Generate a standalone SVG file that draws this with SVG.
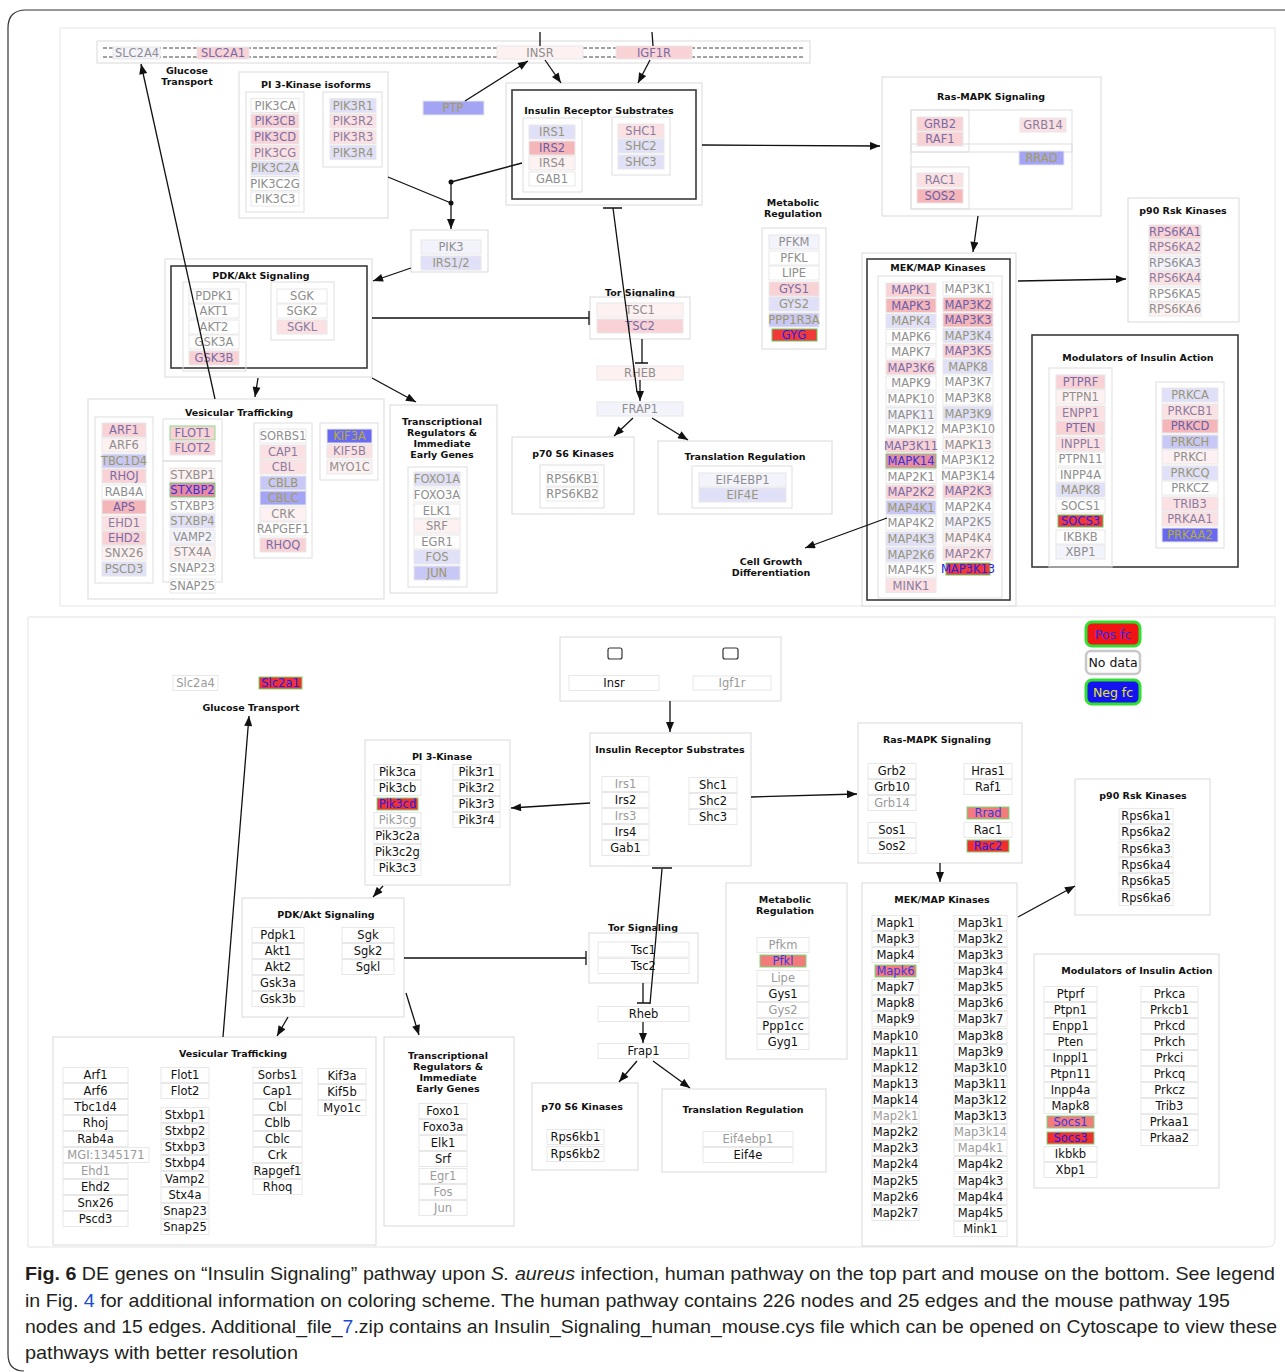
<svg xmlns="http://www.w3.org/2000/svg" width="1285" height="1372" viewBox="0 0 1285 1372">
<defs>
<marker id="ah" viewBox="0 0 10 8" refX="10" refY="4" markerWidth="11" markerHeight="8" markerUnits="userSpaceOnUse" orient="auto"><path d="M0,0 L10,4 L0,8 z" fill="#111"/></marker>
<style>
.bx{fill:#fff;stroke:#d9d9d9;stroke-width:1}
.in{fill:none;stroke:#dedede;stroke-width:1}
.dk{fill:none;stroke:#3a3a3a;stroke-width:1.6}
.ti{font:bold 9.5px "DejaVu Sans",sans-serif;text-anchor:middle;fill:#111}
.n rect{fill:#fff;stroke:#e8e8e8;stroke-width:1}
.n text{font:11.5px "DejaVu Sans",sans-serif;text-anchor:middle;fill:#8e8e8e}
.p1 rect{fill:#fdf1f1}
.p2 rect{fill:#fbe1e3}
.p2 text{fill:#8a7c9e}
.p3 rect{fill:#f8d2d5}
.p3 text{fill:#7a6ba6}
.p4 rect{fill:#f5b6ba}
.p4 text{fill:#6a5fa8}
.v1 rect{fill:#f3f3fc}
.v2 rect{fill:#e0e0f9}
.v2 text{fill:#97957a}
.v3 rect{fill:#c8c8f6}
.v3 text{fill:#9d9766}
.b1 rect{fill:#a4a4f4}
.b1 text{fill:#a59c55}
.b2 rect{fill:#6a6af0}
.b2 text{fill:#b4ab3c}
.r rect{fill:#f03a3a;stroke:#6c6}
.r text{fill:#2424e6}
.rs rect{fill:#e98aa0;stroke:#7c7}
.rs text{fill:#3434d8}
.gb rect{stroke:#8d8}
.m text{fill:#111}
.mg text{fill:#9a9a9a}
.ms rect{fill:#f27b7b;stroke:#7d7}
.ms text{fill:#3a3ae0}
.mr rect{fill:#f03030;stroke:#7d7}
.mr text{fill:#2020e8}
.e{fill:none;stroke:#111;stroke-width:1.3}
.a{marker-end:url(#ah)}
.cap{font-family:"Liberation Sans Narrow","Liberation Sans",sans-serif;font-size:19px;fill:#231f20}
.lg{font:12.5px "DejaVu Sans",sans-serif;text-anchor:middle}
</style>
</defs>
<rect width="1285" height="1372" fill="#fff"/>
<path d="M1285,10 H26 Q8,10 8,28 V1354 Q8,1371 24,1371" fill="none" stroke="#333" stroke-width="1.2"/>
<rect x="60" y="28" width="1215" height="578" fill="none" stroke="#e6e6e6"/>
<path d="M28,617 H1275 V1239 Q1275,1247 1267,1247 H28 Z" fill="none" stroke="#e3e3e3"/>

<g id="human-groups">
<g id="h-membrane"><rect class="bx" x="97" y="41" width="713" height="22"/><path d="M103,48H803M103,57H803" stroke="#444" stroke-width="1" stroke-dasharray="4,2" fill="none"/></g>
<g id="h-glucose-label"><text class="ti" x="187" y="74">Glucose</text><text class="ti" x="187" y="85">Transport</text></g>
<g id="h-pi3k"><rect class="bx" x="239" y="72" width="149" height="146"/><text class="ti" x="316" y="87.5">PI 3-Kinase isoforms</text><rect class="in" x="246" y="92" width="58" height="120"/><rect class="in" x="323" y="92" width="59" height="75"/></g>
<g id="h-irs"><rect class="bx" x="506" y="83" width="196" height="122"/><rect class="dk" x="512" y="90" width="184" height="109"/><text class="ti" x="599" y="113.5">Insulin Receptor Substrates</text><rect class="in" x="523" y="118" width="59" height="74"/><rect class="in" x="612" y="117" width="58" height="58"/></g>
<g id="h-pik3box"><rect class="bx" x="411" y="230" width="77" height="42"/></g>
<g id="h-ras"><rect class="bx" x="882" y="77" width="219" height="139"/><text class="ti" x="991" y="99.5">Ras-MAPK Signaling</text><rect class="in" x="911" y="110" width="161" height="99"/><rect class="in" x="911" y="110" width="58" height="42"/><rect class="in" x="911" y="144" width="161" height="8"/><rect class="in" x="911" y="167" width="58" height="42"/></g>
<g id="h-mek"><rect class="bx" x="862" y="253" width="154" height="353"/><rect class="dk" x="867" y="259" width="143" height="341"/><text class="ti" x="938" y="270.5">MEK/MAP Kinases</text><rect class="in" x="878" y="276" width="124" height="322"/></g>
<g id="h-p90"><rect class="bx" x="1128" y="198" width="111" height="124"/><text class="ti" x="1183" y="213.5">p90 Rsk Kinases</text></g>
<g id="h-mod"><rect class="dk" x="1032" y="335" width="206" height="232"/><text class="ti" x="1138" y="361">Modulators of Insulin Action</text><rect class="in" x="1049" y="368" width="63" height="199"/><rect class="in" x="1156" y="382" width="68" height="166"/></g>
<g id="h-meta"><text class="ti" x="793" y="205.5">Metabolic</text><text class="ti" x="793" y="216.5">Regulation</text><rect class="bx" x="762" y="228" width="64" height="121"/></g>
<g id="h-tor"><text class="ti" x="640" y="295.5">Tor Signaling</text><rect class="bx" x="590" y="297" width="100" height="42"/></g>
<g id="h-p70"><rect class="bx" x="512" y="437" width="122" height="77"/><text class="ti" x="573" y="456.5">p70 S6 Kinases</text><rect class="in" x="540" y="465" width="64" height="43"/></g>
<g id="h-trans"><rect class="bx" x="658" y="441" width="174" height="73"/><text class="ti" x="745" y="459.5">Translation Regulation</text><rect class="in" x="692" y="466" width="100" height="42"/></g>
<g id="h-cellgrowth"><text class="ti" x="771" y="564.5">Cell Growth</text><text class="ti" x="771" y="575.5">Differentiation</text></g>
<g id="h-pdk"><rect class="bx" x="165" y="259" width="207" height="118"/><rect class="dk" x="171" y="266" width="196" height="102"/><text class="ti" x="261" y="278.5">PDK/Akt Signaling</text><rect class="in" x="183" y="282" width="63" height="89"/><rect class="in" x="271" y="282" width="63" height="58"/></g>
<g id="h-vt"><rect class="bx" x="88" y="399" width="296" height="200"/><text class="ti" x="239" y="415.5">Vesicular Trafficking</text><rect class="in" x="95" y="417" width="58" height="166"/><rect class="in" x="163" y="419" width="59" height="42"/><rect class="in" x="163" y="461" width="59" height="121"/><rect class="in" x="254" y="423" width="58" height="135"/><rect class="in" x="320" y="423" width="58" height="57"/></g>
<g id="h-tr"><rect class="bx" x="390" y="405" width="107" height="188"/><text class="ti" x="442" y="424.5">Transcriptional</text><text class="ti" x="442" y="435.5">Regulators &amp;</text><text class="ti" x="442" y="446.5">Immediate</text><text class="ti" x="442" y="457.5">Early Genes</text><rect class="in" x="408" y="467" width="59" height="120"/></g>
</g>

<g id="human-nodes">
<g id="h-SLC2A4" class="n v1"><rect x="113" y="47" width="47" height="12"/><text x="137" y="57">SLC2A4</text></g>
<g id="h-SLC2A1" class="n p3"><rect x="197" y="47" width="52" height="12"/><text x="223" y="57">SLC2A1</text></g>
<g id="h-INSR" class="n p1"><rect x="497" y="46" width="86" height="13"/><text x="540" y="57">INSR</text></g>
<g id="h-IGF1R" class="n p3"><rect x="616" y="46" width="76" height="13"/><text x="654" y="57">IGF1R</text></g>
<g id="h-PTP" class="n b1"><rect x="423" y="101" width="61" height="14"/><text x="453" y="112">PTP</text></g>
<g id="h-PIK3CA" class="n"><rect x="251" y="98.5" width="48" height="14"/><text x="275" y="109.5">PIK3CA</text></g>
<g id="h-PIK3CB" class="n p3"><rect x="251" y="114" width="48" height="14"/><text x="275" y="125">PIK3CB</text></g>
<g id="h-PIK3CD" class="n p3"><rect x="251" y="130" width="48" height="14"/><text x="275" y="141">PIK3CD</text></g>
<g id="h-PIK3CG" class="n p2"><rect x="251" y="145.5" width="48" height="14"/><text x="275" y="156.5">PIK3CG</text></g>
<g id="h-PIK3C2A" class="n v2"><rect x="251" y="161" width="48" height="14"/><text x="275" y="172">PIK3C2A</text></g>
<g id="h-PIK3C2G" class="n"><rect x="251" y="176.5" width="48" height="14"/><text x="275" y="187.5">PIK3C2G</text></g>
<g id="h-PIK3C3" class="n"><rect x="251" y="192" width="48" height="14"/><text x="275" y="203">PIK3C3</text></g>
<g id="h-PIK3R1" class="n v2"><rect x="330" y="98.5" width="46" height="14"/><text x="353" y="109.5">PIK3R1</text></g>
<g id="h-PIK3R2" class="n p2"><rect x="330" y="114" width="46" height="14"/><text x="353" y="125">PIK3R2</text></g>
<g id="h-PIK3R3" class="n p2"><rect x="330" y="130" width="46" height="14"/><text x="353" y="141">PIK3R3</text></g>
<g id="h-PIK3R4" class="n v2"><rect x="330" y="145.5" width="46" height="14"/><text x="353" y="156.5">PIK3R4</text></g>
<g id="h-IRS1" class="n v2"><rect x="529" y="125" width="46" height="14"/><text x="552" y="136">IRS1</text></g>
<g id="h-IRS2" class="n p4"><rect x="529" y="141" width="46" height="14"/><text x="552" y="152">IRS2</text></g>
<g id="h-IRS4" class="n p1"><rect x="529" y="156" width="46" height="14"/><text x="552" y="167">IRS4</text></g>
<g id="h-GAB1" class="n"><rect x="529" y="172" width="46" height="14"/><text x="552" y="183">GAB1</text></g>
<g id="h-SHC1" class="n p2"><rect x="618" y="124" width="46" height="14"/><text x="641" y="135">SHC1</text></g>
<g id="h-SHC2" class="n v2"><rect x="618" y="139" width="46" height="14"/><text x="641" y="150">SHC2</text></g>
<g id="h-SHC3" class="n v2"><rect x="618" y="155" width="46" height="14"/><text x="641" y="166">SHC3</text></g>
<g id="h-PIK3" class="n v1"><rect x="421" y="240" width="60" height="14"/><text x="451" y="251">PIK3</text></g>
<g id="h-IRS12" class="n v2"><rect x="421" y="256" width="60" height="14"/><text x="451" y="267">IRS1/2</text></g>
<g id="h-GRB2" class="n p3"><rect x="917" y="117" width="46" height="14"/><text x="940" y="128">GRB2</text></g>
<g id="h-RAF1" class="n p3"><rect x="917" y="132" width="46" height="14"/><text x="940" y="143">RAF1</text></g>
<g id="h-GRB14" class="n p2"><rect x="1020" y="118" width="46" height="14"/><text x="1043" y="129">GRB14</text></g>
<g id="h-RRAD" class="n b1"><rect x="1019" y="151" width="45" height="14"/><text x="1041.5" y="162">RRAD</text></g>
<g id="h-RAC1" class="n p2"><rect x="917" y="173" width="46" height="14"/><text x="940" y="184">RAC1</text></g>
<g id="h-SOS2" class="n p4"><rect x="917" y="189" width="46" height="14"/><text x="940" y="200">SOS2</text></g>
<g id="h-MAPK1" class="n p3"><rect x="886" y="283" width="50" height="14"/><text x="911" y="294">MAPK1</text></g>
<g id="h-MAPK3" class="n p4"><rect x="886" y="298.5" width="50" height="14"/><text x="911" y="309.5">MAPK3</text></g>
<g id="h-MAPK4" class="n v2"><rect x="886" y="314" width="50" height="14"/><text x="911" y="325">MAPK4</text></g>
<g id="h-MAPK6" class="n"><rect x="886" y="329.5" width="50" height="14"/><text x="911" y="340.5">MAPK6</text></g>
<g id="h-MAPK7" class="n"><rect x="886" y="345" width="50" height="14"/><text x="911" y="356">MAPK7</text></g>
<g id="h-MAP3K6" class="n p3"><rect x="886" y="360.5" width="50" height="14"/><text x="911" y="371.5">MAP3K6</text></g>
<g id="h-MAPK9" class="n"><rect x="886" y="376" width="50" height="14"/><text x="911" y="387">MAPK9</text></g>
<g id="h-MAPK10" class="n"><rect x="886" y="392" width="50" height="14"/><text x="911" y="403">MAPK10</text></g>
<g id="h-MAPK11" class="n v1"><rect x="886" y="407.5" width="50" height="14"/><text x="911" y="418.5">MAPK11</text></g>
<g id="h-MAPK12" class="n"><rect x="886" y="423" width="50" height="14"/><text x="911" y="434">MAPK12</text></g>
<g id="h-MAP3K11" class="n p3"><rect x="886" y="438.5" width="50" height="14"/><text x="911" y="449.5">MAP3K11</text></g>
<g id="h-MAPK14" class="n rs"><rect x="886" y="454" width="50" height="14"/><text x="911" y="465">MAPK14</text></g>
<g id="h-MAP2K1" class="n"><rect x="886" y="469.5" width="50" height="14"/><text x="911" y="480.5">MAP2K1</text></g>
<g id="h-MAP2K2" class="n p3"><rect x="886" y="485" width="50" height="14"/><text x="911" y="496">MAP2K2</text></g>
<g id="h-MAP4K1" class="n v3"><rect x="886" y="500.5" width="50" height="14"/><text x="911" y="511.5">MAP4K1</text></g>
<g id="h-MAP4K2" class="n"><rect x="886" y="516" width="50" height="14"/><text x="911" y="527">MAP4K2</text></g>
<g id="h-MAP4K3" class="n v2"><rect x="886" y="532" width="50" height="14"/><text x="911" y="543">MAP4K3</text></g>
<g id="h-MAP2K6" class="n v2"><rect x="886" y="547.5" width="50" height="14"/><text x="911" y="558.5">MAP2K6</text></g>
<g id="h-MAP4K5" class="n"><rect x="886" y="563" width="50" height="14"/><text x="911" y="574">MAP4K5</text></g>
<g id="h-MINK1" class="n p2"><rect x="886" y="578.5" width="50" height="14"/><text x="911" y="589.5">MINK1</text></g>
<g id="h-MAP3K1" class="n"><rect x="943" y="282" width="50" height="14"/><text x="968" y="293">MAP3K1</text></g>
<g id="h-MAP3K2" class="n p4"><rect x="943" y="297.5" width="50" height="14"/><text x="968" y="308.5">MAP3K2</text></g>
<g id="h-MAP3K3" class="n p4"><rect x="943" y="313" width="50" height="14"/><text x="968" y="324">MAP3K3</text></g>
<g id="h-MAP3K4" class="n v2"><rect x="943" y="328.5" width="50" height="14"/><text x="968" y="339.5">MAP3K4</text></g>
<g id="h-MAP3K5" class="n p3"><rect x="943" y="344" width="50" height="14"/><text x="968" y="355">MAP3K5</text></g>
<g id="h-mek-MAPK8" class="n v2"><rect x="943" y="359.5" width="50" height="14"/><text x="968" y="370.5">MAPK8</text></g>
<g id="h-MAP3K7" class="n"><rect x="943" y="375" width="50" height="14"/><text x="968" y="386">MAP3K7</text></g>
<g id="h-MAP3K8" class="n"><rect x="943" y="391" width="50" height="14"/><text x="968" y="402">MAP3K8</text></g>
<g id="h-MAP3K9" class="n v2"><rect x="943" y="406.5" width="50" height="14"/><text x="968" y="417.5">MAP3K9</text></g>
<g id="h-MAP3K10" class="n"><rect x="943" y="422" width="50" height="14"/><text x="968" y="433">MAP3K10</text></g>
<g id="h-MAPK13" class="n p1"><rect x="943" y="437.5" width="50" height="14"/><text x="968" y="448.5">MAPK13</text></g>
<g id="h-MAP3K12" class="n"><rect x="943" y="453" width="50" height="14"/><text x="968" y="464">MAP3K12</text></g>
<g id="h-MAP3K14" class="n"><rect x="943" y="468.5" width="50" height="14"/><text x="968" y="479.5">MAP3K14</text></g>
<g id="h-MAP2K3" class="n p3"><rect x="943" y="484" width="50" height="14"/><text x="968" y="495">MAP2K3</text></g>
<g id="h-MAP2K4" class="n"><rect x="943" y="499.5" width="50" height="14"/><text x="968" y="510.5">MAP2K4</text></g>
<g id="h-MAP2K5" class="n v1"><rect x="943" y="515" width="50" height="14"/><text x="968" y="526">MAP2K5</text></g>
<g id="h-MAP4K4" class="n p1"><rect x="943" y="531" width="50" height="14"/><text x="968" y="542">MAP4K4</text></g>
<g id="h-MAP2K7" class="n p2"><rect x="943" y="546.5" width="50" height="14"/><text x="968" y="557.5">MAP2K7</text></g>
<g id="h-MAP3K13" class="n r"><rect x="946" y="563" width="44" height="12"/><text x="968" y="573">MAP3K13</text></g>
<g id="h-RPS6KA1" class="n p3"><rect x="1149" y="225" width="52" height="14"/><text x="1175" y="236">RPS6KA1</text></g>
<g id="h-RPS6KA2" class="n p2"><rect x="1149" y="240" width="52" height="14"/><text x="1175" y="251">RPS6KA2</text></g>
<g id="h-RPS6KA3" class="n v1"><rect x="1149" y="256" width="52" height="14"/><text x="1175" y="267">RPS6KA3</text></g>
<g id="h-RPS6KA4" class="n p2"><rect x="1149" y="271" width="52" height="14"/><text x="1175" y="282">RPS6KA4</text></g>
<g id="h-RPS6KA5" class="n"><rect x="1149" y="287" width="52" height="14"/><text x="1175" y="298">RPS6KA5</text></g>
<g id="h-RPS6KA6" class="n p1"><rect x="1149" y="302" width="52" height="14"/><text x="1175" y="313">RPS6KA6</text></g>
<g id="h-PTPRF" class="n p3"><rect x="1056" y="375" width="49" height="14"/><text x="1080.5" y="386">PTPRF</text></g>
<g id="h-PTPN1" class="n p1"><rect x="1056" y="390" width="49" height="14"/><text x="1080.5" y="401">PTPN1</text></g>
<g id="h-ENPP1" class="n p2"><rect x="1056" y="406" width="49" height="14"/><text x="1080.5" y="417">ENPP1</text></g>
<g id="h-PTEN" class="n p3"><rect x="1056" y="421" width="49" height="14"/><text x="1080.5" y="432">PTEN</text></g>
<g id="h-INPPL1" class="n p2"><rect x="1056" y="437" width="49" height="14"/><text x="1080.5" y="448">INPPL1</text></g>
<g id="h-PTPN11" class="n"><rect x="1056" y="452" width="49" height="14"/><text x="1080.5" y="463">PTPN11</text></g>
<g id="h-INPP4A" class="n"><rect x="1056" y="468" width="49" height="14"/><text x="1080.5" y="479">INPP4A</text></g>
<g id="h-mod-MAPK8" class="n v2"><rect x="1056" y="483" width="49" height="14"/><text x="1080.5" y="494">MAPK8</text></g>
<g id="h-SOCS1" class="n"><rect x="1056" y="499" width="49" height="14"/><text x="1080.5" y="510">SOCS1</text></g>
<g id="h-SOCS3" class="n r"><rect x="1058" y="515" width="45" height="12"/><text x="1080.5" y="525">SOCS3</text></g>
<g id="h-IKBKB" class="n"><rect x="1056" y="530" width="49" height="14"/><text x="1080.5" y="541">IKBKB</text></g>
<g id="h-XBP1" class="n v1"><rect x="1056" y="545" width="49" height="14"/><text x="1080.5" y="556">XBP1</text></g>
<g id="h-PRKCA" class="n v2"><rect x="1162" y="388" width="56" height="14"/><text x="1190" y="399">PRKCA</text></g>
<g id="h-PRKCB1" class="n p2"><rect x="1162" y="404" width="56" height="14"/><text x="1190" y="415">PRKCB1</text></g>
<g id="h-PRKCD" class="n p4"><rect x="1162" y="419" width="56" height="14"/><text x="1190" y="430">PRKCD</text></g>
<g id="h-PRKCH" class="n v3"><rect x="1162" y="435" width="56" height="14"/><text x="1190" y="446">PRKCH</text></g>
<g id="h-PRKCI" class="n p1"><rect x="1162" y="450" width="56" height="14"/><text x="1190" y="461">PRKCI</text></g>
<g id="h-PRKCQ" class="n v2"><rect x="1162" y="466" width="56" height="14"/><text x="1190" y="477">PRKCQ</text></g>
<g id="h-PRKCZ" class="n"><rect x="1162" y="481" width="56" height="14"/><text x="1190" y="492">PRKCZ</text></g>
<g id="h-TRIB3" class="n p2"><rect x="1162" y="497" width="56" height="14"/><text x="1190" y="508">TRIB3</text></g>
<g id="h-PRKAA1" class="n p2"><rect x="1162" y="512" width="56" height="14"/><text x="1190" y="523">PRKAA1</text></g>
<g id="h-PRKAA2" class="n b2"><rect x="1162" y="528" width="56" height="14"/><text x="1190" y="539">PRKAA2</text></g>
<g id="h-PFKM" class="n v1"><rect x="769" y="235" width="50" height="14"/><text x="794" y="246">PFKM</text></g>
<g id="h-PFKL" class="n"><rect x="769" y="251" width="50" height="14"/><text x="794" y="262">PFKL</text></g>
<g id="h-LIPE" class="n"><rect x="769" y="266" width="50" height="14"/><text x="794" y="277">LIPE</text></g>
<g id="h-GYS1" class="n p3"><rect x="769" y="282" width="50" height="14"/><text x="794" y="293">GYS1</text></g>
<g id="h-GYS2" class="n v2"><rect x="769" y="297" width="50" height="14"/><text x="794" y="308">GYS2</text></g>
<g id="h-PPP1R3A" class="n v3"><rect x="769" y="313" width="50" height="14"/><text x="794" y="324">PPP1R3A</text></g>
<g id="h-GYG" class="n r"><rect x="772" y="329" width="45" height="12"/><text x="794" y="339">GYG</text></g>
<g id="h-TSC1" class="n p1"><rect x="597" y="303" width="86" height="14"/><text x="640" y="314">TSC1</text></g>
<g id="h-TSC2" class="n p3"><rect x="597" y="319" width="86" height="14"/><text x="640" y="330">TSC2</text></g>
<g id="h-RHEB" class="n p1"><rect x="597" y="366" width="86" height="14"/><text x="640" y="377">RHEB</text></g>
<g id="h-FRAP1" class="n v1"><rect x="597" y="402" width="86" height="14"/><text x="640" y="413">FRAP1</text></g>
<g id="h-RPS6KB1" class="n"><rect x="547" y="472" width="51" height="14"/><text x="572.5" y="483">RPS6KB1</text></g>
<g id="h-RPS6KB2" class="n"><rect x="547" y="487" width="51" height="14"/><text x="572.5" y="498">RPS6KB2</text></g>
<g id="h-EIF4EBP1" class="n v1"><rect x="699" y="473" width="87" height="14"/><text x="742.5" y="484">EIF4EBP1</text></g>
<g id="h-EIF4E" class="n v2"><rect x="699" y="488" width="87" height="14"/><text x="742.5" y="499">EIF4E</text></g>
<g id="h-PDPK1" class="n"><rect x="189" y="289" width="50" height="14"/><text x="214" y="300">PDPK1</text></g>
<g id="h-AKT1" class="n"><rect x="189" y="304" width="50" height="14"/><text x="214" y="315">AKT1</text></g>
<g id="h-AKT2" class="n"><rect x="189" y="320" width="50" height="14"/><text x="214" y="331">AKT2</text></g>
<g id="h-GSK3A" class="n"><rect x="189" y="335" width="50" height="14"/><text x="214" y="346">GSK3A</text></g>
<g id="h-GSK3B" class="n p3"><rect x="189" y="351" width="50" height="14"/><text x="214" y="362">GSK3B</text></g>
<g id="h-SGK" class="n"><rect x="277" y="289" width="50" height="14"/><text x="302" y="300">SGK</text></g>
<g id="h-SGK2" class="n"><rect x="277" y="304" width="50" height="14"/><text x="302" y="315">SGK2</text></g>
<g id="h-SGKL" class="n p2"><rect x="277" y="320" width="50" height="14"/><text x="302" y="331">SGKL</text></g>
<g id="h-ARF1" class="n p3"><rect x="102" y="423" width="44" height="14"/><text x="124" y="434">ARF1</text></g>
<g id="h-ARF6" class="n p1"><rect x="102" y="438" width="44" height="14"/><text x="124" y="449">ARF6</text></g>
<g id="h-TBC1D4" class="n v3"><rect x="102" y="454" width="44" height="14"/><text x="124" y="465">TBC1D4</text></g>
<g id="h-RHOJ" class="n p3"><rect x="102" y="469" width="44" height="14"/><text x="124" y="480">RHOJ</text></g>
<g id="h-RAB4A" class="n"><rect x="102" y="485" width="44" height="14"/><text x="124" y="496">RAB4A</text></g>
<g id="h-APS" class="n p4"><rect x="102" y="500" width="44" height="14"/><text x="124" y="511">APS</text></g>
<g id="h-EHD1" class="n p2"><rect x="102" y="516" width="44" height="14"/><text x="124" y="527">EHD1</text></g>
<g id="h-EHD2" class="n p3"><rect x="102" y="531" width="44" height="14"/><text x="124" y="542">EHD2</text></g>
<g id="h-SNX26" class="n p1"><rect x="102" y="546" width="44" height="14"/><text x="124" y="557">SNX26</text></g>
<g id="h-PSCD3" class="n v2"><rect x="102" y="562" width="44" height="14"/><text x="124" y="573">PSCD3</text></g>
<g id="h-FLOT1" class="n p3 gb"><rect x="170" y="426" width="45" height="14"/><text x="192.5" y="437">FLOT1</text></g>
<g id="h-FLOT2" class="n p3"><rect x="170" y="441" width="45" height="14"/><text x="192.5" y="452">FLOT2</text></g>
<g id="h-STXBP1" class="n p1"><rect x="170" y="468" width="45" height="14"/><text x="192.5" y="479">STXBP1</text></g>
<g id="h-STXBP2" class="n rs"><rect x="170" y="483" width="45" height="14"/><text x="192.5" y="494">STXBP2</text></g>
<g id="h-STXBP3" class="n"><rect x="170" y="499" width="45" height="14"/><text x="192.5" y="510">STXBP3</text></g>
<g id="h-STXBP4" class="n v2"><rect x="170" y="514" width="45" height="14"/><text x="192.5" y="525">STXBP4</text></g>
<g id="h-VAMP2" class="n v1"><rect x="170" y="530" width="45" height="14"/><text x="192.5" y="541">VAMP2</text></g>
<g id="h-STX4A" class="n p1"><rect x="170" y="545" width="45" height="14"/><text x="192.5" y="556">STX4A</text></g>
<g id="h-SNAP23" class="n"><rect x="170" y="561" width="45" height="14"/><text x="192.5" y="572">SNAP23</text></g>
<g id="h-SNAP25" class="n"><rect x="170" y="579" width="45" height="14"/><text x="192.5" y="590">SNAP25</text></g>
<g id="h-SORBS1" class="n"><rect x="260" y="429" width="46" height="14"/><text x="283" y="440">SORBS1</text></g>
<g id="h-CAP1" class="n p2"><rect x="260" y="445" width="46" height="14"/><text x="283" y="456">CAP1</text></g>
<g id="h-CBL" class="n p2"><rect x="260" y="460" width="46" height="14"/><text x="283" y="471">CBL</text></g>
<g id="h-CBLB" class="n v3"><rect x="260" y="476" width="46" height="14"/><text x="283" y="487">CBLB</text></g>
<g id="h-CBLC" class="n b1"><rect x="260" y="491" width="46" height="14"/><text x="283" y="502">CBLC</text></g>
<g id="h-CRK" class="n p1"><rect x="260" y="507" width="46" height="14"/><text x="283" y="518">CRK</text></g>
<g id="h-RAPGEF1" class="n"><rect x="260" y="522" width="46" height="14"/><text x="283" y="533">RAPGEF1</text></g>
<g id="h-RHOQ" class="n p3"><rect x="260" y="538" width="46" height="14"/><text x="283" y="549">RHOQ</text></g>
<g id="h-KIF3A" class="n b2"><rect x="327" y="429" width="45" height="14"/><text x="349.5" y="440">KIF3A</text></g>
<g id="h-KIF5B" class="n p2"><rect x="327" y="444" width="45" height="14"/><text x="349.5" y="455">KIF5B</text></g>
<g id="h-MYO1C" class="n p1"><rect x="327" y="460" width="45" height="14"/><text x="349.5" y="471">MYO1C</text></g>
<g id="h-FOXO1A" class="n v2"><rect x="414" y="472" width="46" height="14"/><text x="437" y="483">FOXO1A</text></g>
<g id="h-FOXO3A" class="n"><rect x="414" y="488" width="46" height="14"/><text x="437" y="499">FOXO3A</text></g>
<g id="h-ELK1" class="n"><rect x="414" y="504" width="46" height="14"/><text x="437" y="515">ELK1</text></g>
<g id="h-SRF" class="n p1"><rect x="414" y="519" width="46" height="14"/><text x="437" y="530">SRF</text></g>
<g id="h-EGR1" class="n"><rect x="414" y="535" width="46" height="14"/><text x="437" y="546">EGR1</text></g>
<g id="h-FOS" class="n v2"><rect x="414" y="550" width="46" height="14"/><text x="437" y="561">FOS</text></g>
<g id="h-JUN" class="n v3"><rect x="414" y="566" width="46" height="14"/><text x="437" y="577">JUN</text></g>
</g>

<g id="human-edges">
<path class="e" d="M540,32V46M652,32L653,46"/>
<path class="e a" d="M465,101L528,61"/>
<path class="e a" d="M545,60L561,83"/>
<path class="e a" d="M650,60L638,83"/>
<path class="e a" d="M702,145L880,146"/>
<path class="e" d="M522,163L451,182M388,177L451,203"/>
<path class="e a" d="M451,182V229"/>
<circle cx="451" cy="182" r="2.5" fill="#111"/><circle cx="451" cy="203" r="2.5" fill="#111"/>
<path class="e a" d="M411,268L373,281"/>
<path class="e" d="M372,318H589M589,311V325"/>
<path class="e a" d="M215,399L141,64"/>
<path class="e a" d="M258,378L255,397"/>
<path class="e a" d="M372,378L416,402"/>
<path class="e" d="M637,392L613,208M603,208H622"/>
<path class="e" d="M642,339V363M635,363H648"/>
<path class="e a" d="M640,380V401"/>
<path class="e a" d="M633,418L614,436"/>
<path class="e a" d="M652,418L688,440"/>
<path class="e a" d="M887,518L805,548"/>
<path class="e a" d="M978,216L973,252"/>
<path class="e a" d="M1018,281L1126,279"/>
</g>

<g id="mouse-groups">
<g id="m-glucose-label"><text class="ti" x="251" y="710.5">Glucose Transport</text></g>
<g id="m-receptors"><rect class="bx" x="560" y="637" width="221" height="64"/><rect x="608" y="648" width="14" height="11" rx="2" fill="#fff" stroke="#333" stroke-width="1.2"/><rect x="723" y="648" width="15" height="11" rx="2" fill="#fff" stroke="#333" stroke-width="1.2"/></g>
<g id="m-irs"><rect class="bx" x="590" y="733" width="161" height="133"/><text class="ti" x="670" y="752.5">Insulin Receptor Substrates</text></g>
<g id="m-pi3k"><rect class="bx" x="365" y="740" width="145" height="145"/><text class="ti" x="442" y="759.5">PI 3-Kinase</text></g>
<g id="m-ras"><rect class="bx" x="858" y="723" width="164" height="140"/><text class="ti" x="937" y="742.5">Ras-MAPK Signaling</text></g>
<g id="m-mek"><rect class="bx" x="862" y="883" width="155" height="363"/><text class="ti" x="942" y="902.5">MEK/MAP Kinases</text></g>
<g id="m-p90"><rect class="bx" x="1075" y="779" width="135" height="136"/><text class="ti" x="1143" y="798.5">p90 Rsk Kinases</text></g>
<g id="m-mod"><rect class="bx" x="1034" y="954" width="185" height="234"/><text class="ti" x="1137" y="973.5">Modulators of Insulin Action</text></g>
<g id="m-meta"><rect class="bx" x="726" y="883" width="121" height="176"/><text class="ti" x="785" y="902.5">Metabolic</text><text class="ti" x="785" y="913.5">Regulation</text></g>
<g id="m-tor"><text class="ti" x="643" y="930.5">Tor Signaling</text><rect class="bx" x="589" y="933" width="109" height="50"/></g>
<g id="m-p70"><rect class="bx" x="532" y="1083" width="106" height="87"/><text class="ti" x="582" y="1109.5">p70 S6 Kinases</text></g>
<g id="m-trans"><rect class="bx" x="662" y="1089" width="164" height="83"/><text class="ti" x="743" y="1112.5">Translation Regulation</text></g>
<g id="m-pdk"><rect class="bx" x="242" y="898" width="162" height="119"/><text class="ti" x="326" y="917.5">PDK/Akt Signaling</text></g>
<g id="m-vt"><rect class="bx" x="53" y="1037" width="323" height="208"/><text class="ti" x="233" y="1056.5">Vesicular Trafficking</text></g>
<g id="m-tr"><rect class="bx" x="384" y="1037" width="130" height="189"/><text class="ti" x="448" y="1058.5">Transcriptional</text><text class="ti" x="448" y="1069.5">Regulators &amp;</text><text class="ti" x="448" y="1080.5">Immediate</text><text class="ti" x="448" y="1091.5">Early Genes</text></g>
</g>

<g id="legend">
<g id="legend-pos"><rect x="1086" y="622" width="54" height="24" rx="6" fill="#f21414" stroke="#2fe02f" stroke-width="3"/><text class="lg" x="1113" y="638.5" fill="#2a2aff">Pos fc</text></g>
<g id="legend-nodata"><rect x="1086" y="651" width="54" height="23" rx="5" fill="#fff" stroke="#c8c8c8" stroke-width="2.5"/><text class="lg" x="1113" y="667" fill="#111">No data</text></g>
<g id="legend-neg"><rect x="1086" y="680" width="54" height="24" rx="6" fill="#1414f0" stroke="#2fe02f" stroke-width="3"/><text class="lg" x="1113" y="696.5" fill="#e6e62a">Neg fc</text></g>
</g>

<g id="mouse-nodes">
<g id="m-Slc2a4" class="n mg"><rect x="173" y="675.5" width="45" height="15"/><text x="195.5" y="687">Slc2a4</text></g>
<g id="m-Slc2a1" class="n mr"><rect x="259" y="677" width="43" height="12"/><text x="280.5" y="687">Slc2a1</text></g>
<g id="m-Insr" class="n m"><rect x="569" y="675.5" width="90" height="15"/><text x="614" y="687">Insr</text></g>
<g id="m-Igf1r" class="n mg"><rect x="693" y="676" width="78" height="14"/><text x="732" y="687">Igf1r</text></g>
<g id="m-Irs1" class="n mg"><rect x="602" y="776.5" width="47" height="15"/><text x="625.5" y="788">Irs1</text></g>
<g id="m-Irs2" class="n m"><rect x="602" y="792.5" width="47" height="15"/><text x="625.5" y="804">Irs2</text></g>
<g id="m-Irs3" class="n mg"><rect x="602" y="808.5" width="47" height="15"/><text x="625.5" y="820">Irs3</text></g>
<g id="m-Irs4" class="n m"><rect x="602" y="824.5" width="47" height="15"/><text x="625.5" y="836">Irs4</text></g>
<g id="m-Gab1" class="n m"><rect x="602" y="840.5" width="47" height="15"/><text x="625.5" y="852">Gab1</text></g>
<g id="m-Shc1" class="n m"><rect x="689" y="777.5" width="48" height="15"/><text x="713" y="789">Shc1</text></g>
<g id="m-Shc2" class="n m"><rect x="689" y="793.5" width="48" height="15"/><text x="713" y="805">Shc2</text></g>
<g id="m-Shc3" class="n m"><rect x="689" y="809.5" width="48" height="15"/><text x="713" y="821">Shc3</text></g>
<g id="m-Pik3ca" class="n m"><rect x="374" y="764.5" width="47" height="15"/><text x="397.5" y="776">Pik3ca</text></g>
<g id="m-Pik3cb" class="n m"><rect x="374" y="780.5" width="47" height="15"/><text x="397.5" y="792">Pik3cb</text></g>
<g id="m-Pik3cd" class="n mr"><rect x="377" y="798" width="41" height="12"/><text x="397.5" y="808">Pik3cd</text></g>
<g id="m-Pik3cg" class="n mg"><rect x="374" y="812.5" width="47" height="15"/><text x="397.5" y="824">Pik3cg</text></g>
<g id="m-Pik3c2a" class="n m"><rect x="374" y="828.5" width="47" height="15"/><text x="397.5" y="840">Pik3c2a</text></g>
<g id="m-Pik3c2g" class="n m"><rect x="374" y="844.5" width="47" height="15"/><text x="397.5" y="856">Pik3c2g</text></g>
<g id="m-Pik3c3" class="n m"><rect x="374" y="860.5" width="47" height="15"/><text x="397.5" y="872">Pik3c3</text></g>
<g id="m-Pik3r1" class="n m"><rect x="453" y="764.5" width="47" height="15"/><text x="476.5" y="776">Pik3r1</text></g>
<g id="m-Pik3r2" class="n m"><rect x="453" y="780.5" width="47" height="15"/><text x="476.5" y="792">Pik3r2</text></g>
<g id="m-Pik3r3" class="n m"><rect x="453" y="796.5" width="47" height="15"/><text x="476.5" y="808">Pik3r3</text></g>
<g id="m-Pik3r4" class="n m"><rect x="453" y="812.5" width="47" height="15"/><text x="476.5" y="824">Pik3r4</text></g>
<g id="m-Grb2" class="n m"><rect x="868" y="763.5" width="48" height="15"/><text x="892" y="775">Grb2</text></g>
<g id="m-Grb10" class="n m"><rect x="868" y="779.5" width="48" height="15"/><text x="892" y="791">Grb10</text></g>
<g id="m-Grb14" class="n mg"><rect x="868" y="795.5" width="48" height="15"/><text x="892" y="807">Grb14</text></g>
<g id="m-Sos1" class="n m"><rect x="868" y="822.5" width="48" height="15"/><text x="892" y="834">Sos1</text></g>
<g id="m-Sos2" class="n m"><rect x="868" y="838.5" width="48" height="15"/><text x="892" y="850">Sos2</text></g>
<g id="m-Hras1" class="n m"><rect x="964" y="763.5" width="48" height="15"/><text x="988" y="775">Hras1</text></g>
<g id="m-Raf1" class="n m"><rect x="964" y="779.5" width="48" height="15"/><text x="988" y="791">Raf1</text></g>
<g id="m-Rrad" class="n ms"><rect x="967" y="807" width="42" height="12"/><text x="988" y="817">Rrad</text></g>
<g id="m-Rac1" class="n m"><rect x="964" y="822.5" width="48" height="15"/><text x="988" y="834">Rac1</text></g>
<g id="m-Rac2" class="n mr"><rect x="967" y="840" width="42" height="12"/><text x="988" y="850">Rac2</text></g>
<g id="m-Mapk1" class="n m"><rect x="872" y="915.5" width="47" height="15"/><text x="895.5" y="927">Mapk1</text></g>
<g id="m-Mapk3" class="n m"><rect x="872" y="931.5" width="47" height="15"/><text x="895.5" y="943">Mapk3</text></g>
<g id="m-Mapk4" class="n m"><rect x="872" y="947.5" width="47" height="15"/><text x="895.5" y="959">Mapk4</text></g>
<g id="m-Mapk6" class="n ms"><rect x="875" y="965" width="41" height="12"/><text x="895.5" y="975">Mapk6</text></g>
<g id="m-Mapk7" class="n m"><rect x="872" y="979.5" width="47" height="15"/><text x="895.5" y="991">Mapk7</text></g>
<g id="m-mek-Mapk8" class="n m"><rect x="872" y="995.5" width="47" height="15"/><text x="895.5" y="1007">Mapk8</text></g>
<g id="m-Mapk9" class="n m"><rect x="872" y="1011.5" width="47" height="15"/><text x="895.5" y="1023">Mapk9</text></g>
<g id="m-Mapk10" class="n m"><rect x="872" y="1028.5" width="47" height="15"/><text x="895.5" y="1040">Mapk10</text></g>
<g id="m-Mapk11" class="n m"><rect x="872" y="1044.5" width="47" height="15"/><text x="895.5" y="1056">Mapk11</text></g>
<g id="m-Mapk12" class="n m"><rect x="872" y="1060.5" width="47" height="15"/><text x="895.5" y="1072">Mapk12</text></g>
<g id="m-Mapk13" class="n m"><rect x="872" y="1076.5" width="47" height="15"/><text x="895.5" y="1088">Mapk13</text></g>
<g id="m-Mapk14" class="n m"><rect x="872" y="1092.5" width="47" height="15"/><text x="895.5" y="1104">Mapk14</text></g>
<g id="m-Map2k1" class="n mg"><rect x="872" y="1108.5" width="47" height="15"/><text x="895.5" y="1120">Map2k1</text></g>
<g id="m-Map2k2" class="n m"><rect x="872" y="1124.5" width="47" height="15"/><text x="895.5" y="1136">Map2k2</text></g>
<g id="m-Map2k3" class="n m"><rect x="872" y="1140.5" width="47" height="15"/><text x="895.5" y="1152">Map2k3</text></g>
<g id="m-Map2k4" class="n m"><rect x="872" y="1156.5" width="47" height="15"/><text x="895.5" y="1168">Map2k4</text></g>
<g id="m-Map2k5" class="n m"><rect x="872" y="1173.5" width="47" height="15"/><text x="895.5" y="1185">Map2k5</text></g>
<g id="m-Map2k6" class="n m"><rect x="872" y="1189.5" width="47" height="15"/><text x="895.5" y="1201">Map2k6</text></g>
<g id="m-Map2k7" class="n m"><rect x="872" y="1205.5" width="47" height="15"/><text x="895.5" y="1217">Map2k7</text></g>
<g id="m-Map3k1" class="n m"><rect x="954" y="915.5" width="53" height="15"/><text x="980.5" y="927">Map3k1</text></g>
<g id="m-Map3k2" class="n m"><rect x="954" y="931.5" width="53" height="15"/><text x="980.5" y="943">Map3k2</text></g>
<g id="m-Map3k3" class="n m"><rect x="954" y="947.5" width="53" height="15"/><text x="980.5" y="959">Map3k3</text></g>
<g id="m-Map3k4" class="n m"><rect x="954" y="963.5" width="53" height="15"/><text x="980.5" y="975">Map3k4</text></g>
<g id="m-Map3k5" class="n m"><rect x="954" y="979.5" width="53" height="15"/><text x="980.5" y="991">Map3k5</text></g>
<g id="m-Map3k6" class="n m"><rect x="954" y="995.5" width="53" height="15"/><text x="980.5" y="1007">Map3k6</text></g>
<g id="m-Map3k7" class="n m"><rect x="954" y="1011.5" width="53" height="15"/><text x="980.5" y="1023">Map3k7</text></g>
<g id="m-Map3k8" class="n m"><rect x="954" y="1028.5" width="53" height="15"/><text x="980.5" y="1040">Map3k8</text></g>
<g id="m-Map3k9" class="n m"><rect x="954" y="1044.5" width="53" height="15"/><text x="980.5" y="1056">Map3k9</text></g>
<g id="m-Map3k10" class="n m"><rect x="954" y="1060.5" width="53" height="15"/><text x="980.5" y="1072">Map3k10</text></g>
<g id="m-Map3k11" class="n m"><rect x="954" y="1076.5" width="53" height="15"/><text x="980.5" y="1088">Map3k11</text></g>
<g id="m-Map3k12" class="n m"><rect x="954" y="1092.5" width="53" height="15"/><text x="980.5" y="1104">Map3k12</text></g>
<g id="m-Map3k13" class="n m"><rect x="954" y="1108.5" width="53" height="15"/><text x="980.5" y="1120">Map3k13</text></g>
<g id="m-Map3k14" class="n mg"><rect x="954" y="1124.5" width="53" height="15"/><text x="980.5" y="1136">Map3k14</text></g>
<g id="m-Map4k1" class="n mg"><rect x="954" y="1140.5" width="53" height="15"/><text x="980.5" y="1152">Map4k1</text></g>
<g id="m-Map4k2" class="n m"><rect x="954" y="1156.5" width="53" height="15"/><text x="980.5" y="1168">Map4k2</text></g>
<g id="m-Map4k3" class="n m"><rect x="954" y="1173.5" width="53" height="15"/><text x="980.5" y="1185">Map4k3</text></g>
<g id="m-Map4k4" class="n m"><rect x="954" y="1189.5" width="53" height="15"/><text x="980.5" y="1201">Map4k4</text></g>
<g id="m-Map4k5" class="n m"><rect x="954" y="1205.5" width="53" height="15"/><text x="980.5" y="1217">Map4k5</text></g>
<g id="m-Mink1" class="n m"><rect x="954" y="1221.5" width="53" height="15"/><text x="980.5" y="1233">Mink1</text></g>
<g id="m-Rps6ka1" class="n m"><rect x="1119" y="808.5" width="54" height="15"/><text x="1146" y="820">Rps6ka1</text></g>
<g id="m-Rps6ka2" class="n m"><rect x="1119" y="824.5" width="54" height="15"/><text x="1146" y="836">Rps6ka2</text></g>
<g id="m-Rps6ka3" class="n m"><rect x="1119" y="841.5" width="54" height="15"/><text x="1146" y="853">Rps6ka3</text></g>
<g id="m-Rps6ka4" class="n m"><rect x="1119" y="857.5" width="54" height="15"/><text x="1146" y="869">Rps6ka4</text></g>
<g id="m-Rps6ka5" class="n m"><rect x="1119" y="873.5" width="54" height="15"/><text x="1146" y="885">Rps6ka5</text></g>
<g id="m-Rps6ka6" class="n m"><rect x="1119" y="890.5" width="54" height="15"/><text x="1146" y="902">Rps6ka6</text></g>
<g id="m-Ptprf" class="n m"><rect x="1044" y="986.5" width="53" height="15"/><text x="1070.5" y="998">Ptprf</text></g>
<g id="m-Ptpn1" class="n m"><rect x="1044" y="1002.5" width="53" height="15"/><text x="1070.5" y="1014">Ptpn1</text></g>
<g id="m-Enpp1" class="n m"><rect x="1044" y="1018.5" width="53" height="15"/><text x="1070.5" y="1030">Enpp1</text></g>
<g id="m-Pten" class="n m"><rect x="1044" y="1034.5" width="53" height="15"/><text x="1070.5" y="1046">Pten</text></g>
<g id="m-Inppl1" class="n m"><rect x="1044" y="1050.5" width="53" height="15"/><text x="1070.5" y="1062">Inppl1</text></g>
<g id="m-Ptpn11" class="n m"><rect x="1044" y="1066.5" width="53" height="15"/><text x="1070.5" y="1078">Ptpn11</text></g>
<g id="m-Inpp4a" class="n m"><rect x="1044" y="1082.5" width="53" height="15"/><text x="1070.5" y="1094">Inpp4a</text></g>
<g id="m-mod-Mapk8" class="n m"><rect x="1044" y="1098.5" width="53" height="15"/><text x="1070.5" y="1110">Mapk8</text></g>
<g id="m-Socs1" class="n ms"><rect x="1047" y="1116" width="47" height="12"/><text x="1070.5" y="1126">Socs1</text></g>
<g id="m-Socs3" class="n mr"><rect x="1047" y="1132" width="47" height="12"/><text x="1070.5" y="1142">Socs3</text></g>
<g id="m-Ikbkb" class="n m"><rect x="1044" y="1146.5" width="53" height="15"/><text x="1070.5" y="1158">Ikbkb</text></g>
<g id="m-Xbp1" class="n m"><rect x="1044" y="1162.5" width="53" height="15"/><text x="1070.5" y="1174">Xbp1</text></g>
<g id="m-Prkca" class="n m"><rect x="1141" y="986.5" width="57" height="15"/><text x="1169.5" y="998">Prkca</text></g>
<g id="m-Prkcb1" class="n m"><rect x="1141" y="1002.5" width="57" height="15"/><text x="1169.5" y="1014">Prkcb1</text></g>
<g id="m-Prkcd" class="n m"><rect x="1141" y="1018.5" width="57" height="15"/><text x="1169.5" y="1030">Prkcd</text></g>
<g id="m-Prkch" class="n m"><rect x="1141" y="1034.5" width="57" height="15"/><text x="1169.5" y="1046">Prkch</text></g>
<g id="m-Prkci" class="n m"><rect x="1141" y="1050.5" width="57" height="15"/><text x="1169.5" y="1062">Prkci</text></g>
<g id="m-Prkcq" class="n m"><rect x="1141" y="1066.5" width="57" height="15"/><text x="1169.5" y="1078">Prkcq</text></g>
<g id="m-Prkcz" class="n m"><rect x="1141" y="1082.5" width="57" height="15"/><text x="1169.5" y="1094">Prkcz</text></g>
<g id="m-Trib3" class="n m"><rect x="1141" y="1098.5" width="57" height="15"/><text x="1169.5" y="1110">Trib3</text></g>
<g id="m-Prkaa1" class="n m"><rect x="1141" y="1114.5" width="57" height="15"/><text x="1169.5" y="1126">Prkaa1</text></g>
<g id="m-Prkaa2" class="n m"><rect x="1141" y="1130.5" width="57" height="15"/><text x="1169.5" y="1142">Prkaa2</text></g>
<g id="m-Tsc1" class="n m"><rect x="598" y="942" width="91" height="15"/><text x="643.5" y="953.5">Tsc1</text></g>
<g id="m-Tsc2" class="n m"><rect x="598" y="958.5" width="91" height="15"/><text x="643.5" y="970">Tsc2</text></g>
<g id="m-Rheb" class="n m"><rect x="598" y="1006.5" width="91" height="15"/><text x="643.5" y="1018">Rheb</text></g>
<g id="m-Frap1" class="n m"><rect x="598" y="1043.5" width="91" height="15"/><text x="643.5" y="1055">Frap1</text></g>
<g id="m-Rps6kb1" class="n m"><rect x="547" y="1129.5" width="57" height="15"/><text x="575.5" y="1141">Rps6kb1</text></g>
<g id="m-Rps6kb2" class="n m"><rect x="547" y="1146.5" width="57" height="15"/><text x="575.5" y="1158">Rps6kb2</text></g>
<g id="m-Eif4ebp1" class="n mg"><rect x="703" y="1131.5" width="90" height="15"/><text x="748" y="1143">Eif4ebp1</text></g>
<g id="m-Eif4e" class="n m"><rect x="703" y="1147.5" width="90" height="15"/><text x="748" y="1159">Eif4e</text></g>
<g id="m-Pfkm" class="n mg"><rect x="757" y="937.5" width="52" height="15"/><text x="783" y="949">Pfkm</text></g>
<g id="m-Pfkl" class="n ms"><rect x="760" y="955" width="46" height="12"/><text x="783" y="965">Pfkl</text></g>
<g id="m-Lipe" class="n mg"><rect x="757" y="970.5" width="52" height="15"/><text x="783" y="982">Lipe</text></g>
<g id="m-Gys1" class="n m"><rect x="757" y="986.5" width="52" height="15"/><text x="783" y="998">Gys1</text></g>
<g id="m-Gys2" class="n mg"><rect x="757" y="1002.5" width="52" height="15"/><text x="783" y="1014">Gys2</text></g>
<g id="m-Ppp1cc" class="n m"><rect x="757" y="1018.5" width="52" height="15"/><text x="783" y="1030">Ppp1cc</text></g>
<g id="m-Gyg1" class="n m"><rect x="757" y="1034.5" width="52" height="15"/><text x="783" y="1046">Gyg1</text></g>
<g id="m-Pdpk1" class="n m"><rect x="252" y="927.5" width="52" height="15"/><text x="278" y="939">Pdpk1</text></g>
<g id="m-Akt1" class="n m"><rect x="252" y="943.5" width="52" height="15"/><text x="278" y="955">Akt1</text></g>
<g id="m-Akt2" class="n m"><rect x="252" y="959.5" width="52" height="15"/><text x="278" y="971">Akt2</text></g>
<g id="m-Gsk3a" class="n m"><rect x="252" y="975.5" width="52" height="15"/><text x="278" y="987">Gsk3a</text></g>
<g id="m-Gsk3b" class="n m"><rect x="252" y="991.5" width="52" height="15"/><text x="278" y="1003">Gsk3b</text></g>
<g id="m-Sgk" class="n m"><rect x="342" y="927.5" width="52" height="15"/><text x="368" y="939">Sgk</text></g>
<g id="m-Sgk2" class="n m"><rect x="342" y="943.5" width="52" height="15"/><text x="368" y="955">Sgk2</text></g>
<g id="m-Sgkl" class="n m"><rect x="342" y="959.5" width="52" height="15"/><text x="368" y="971">Sgkl</text></g>
<g id="m-Arf1" class="n m"><rect x="63" y="1067.5" width="65" height="15"/><text x="95.5" y="1079">Arf1</text></g>
<g id="m-Arf6" class="n m"><rect x="63" y="1083.5" width="65" height="15"/><text x="95.5" y="1095">Arf6</text></g>
<g id="m-Tbc1d4" class="n m"><rect x="63" y="1099.5" width="65" height="15"/><text x="95.5" y="1111">Tbc1d4</text></g>
<g id="m-Rhoj" class="n m"><rect x="63" y="1115.5" width="65" height="15"/><text x="95.5" y="1127">Rhoj</text></g>
<g id="m-Rab4a" class="n m"><rect x="63" y="1131.5" width="65" height="15"/><text x="95.5" y="1143">Rab4a</text></g>
<g id="m-MGI1345171" class="n mg"><rect x="63" y="1147.5" width="86" height="15"/><text x="106" y="1159">MGI:1345171</text></g>
<g id="m-Ehd1" class="n mg"><rect x="63" y="1163.5" width="65" height="15"/><text x="95.5" y="1175">Ehd1</text></g>
<g id="m-Ehd2" class="n m"><rect x="63" y="1179.5" width="65" height="15"/><text x="95.5" y="1191">Ehd2</text></g>
<g id="m-Snx26" class="n m"><rect x="63" y="1195.5" width="65" height="15"/><text x="95.5" y="1207">Snx26</text></g>
<g id="m-Pscd3" class="n m"><rect x="63" y="1211.5" width="65" height="15"/><text x="95.5" y="1223">Pscd3</text></g>
<g id="m-Flot1" class="n m"><rect x="161" y="1067.5" width="48" height="15"/><text x="185" y="1079">Flot1</text></g>
<g id="m-Flot2" class="n m"><rect x="161" y="1083.5" width="48" height="15"/><text x="185" y="1095">Flot2</text></g>
<g id="m-Stxbp1" class="n m"><rect x="161" y="1107.5" width="48" height="15"/><text x="185" y="1119">Stxbp1</text></g>
<g id="m-Stxbp2" class="n m"><rect x="161" y="1123.5" width="48" height="15"/><text x="185" y="1135">Stxbp2</text></g>
<g id="m-Stxbp3" class="n m"><rect x="161" y="1139.5" width="48" height="15"/><text x="185" y="1151">Stxbp3</text></g>
<g id="m-Stxbp4" class="n m"><rect x="161" y="1155.5" width="48" height="15"/><text x="185" y="1167">Stxbp4</text></g>
<g id="m-Vamp2" class="n m"><rect x="161" y="1171.5" width="48" height="15"/><text x="185" y="1183">Vamp2</text></g>
<g id="m-Stx4a" class="n m"><rect x="161" y="1187.5" width="48" height="15"/><text x="185" y="1199">Stx4a</text></g>
<g id="m-Snap23" class="n m"><rect x="161" y="1203.5" width="48" height="15"/><text x="185" y="1215">Snap23</text></g>
<g id="m-Snap25" class="n m"><rect x="161" y="1219.5" width="48" height="15"/><text x="185" y="1231">Snap25</text></g>
<g id="m-Sorbs1" class="n m"><rect x="253" y="1067.5" width="49" height="15"/><text x="277.5" y="1079">Sorbs1</text></g>
<g id="m-Cap1" class="n m"><rect x="253" y="1083.5" width="49" height="15"/><text x="277.5" y="1095">Cap1</text></g>
<g id="m-Cbl" class="n m"><rect x="253" y="1099.5" width="49" height="15"/><text x="277.5" y="1111">Cbl</text></g>
<g id="m-Cblb" class="n m"><rect x="253" y="1115.5" width="49" height="15"/><text x="277.5" y="1127">Cblb</text></g>
<g id="m-Cblc" class="n m"><rect x="253" y="1131.5" width="49" height="15"/><text x="277.5" y="1143">Cblc</text></g>
<g id="m-Crk" class="n m"><rect x="253" y="1147.5" width="49" height="15"/><text x="277.5" y="1159">Crk</text></g>
<g id="m-Rapgef1" class="n m"><rect x="253" y="1163.5" width="49" height="15"/><text x="277.5" y="1175">Rapgef1</text></g>
<g id="m-Rhoq" class="n m"><rect x="253" y="1179.5" width="49" height="15"/><text x="277.5" y="1191">Rhoq</text></g>
<g id="m-Kif3a" class="n m"><rect x="318" y="1068.5" width="48" height="15"/><text x="342" y="1080">Kif3a</text></g>
<g id="m-Kif5b" class="n m"><rect x="318" y="1084.5" width="48" height="15"/><text x="342" y="1096">Kif5b</text></g>
<g id="m-Myo1c" class="n m"><rect x="318" y="1100.5" width="48" height="15"/><text x="342" y="1112">Myo1c</text></g>
<g id="m-Foxo1" class="n m"><rect x="419" y="1103.5" width="48" height="15"/><text x="443" y="1115">Foxo1</text></g>
<g id="m-Foxo3a" class="n m"><rect x="419" y="1119.5" width="48" height="15"/><text x="443" y="1131">Foxo3a</text></g>
<g id="m-Elk1" class="n m"><rect x="419" y="1135.5" width="48" height="15"/><text x="443" y="1147">Elk1</text></g>
<g id="m-Srf" class="n m"><rect x="419" y="1151.5" width="48" height="15"/><text x="443" y="1163">Srf</text></g>
<g id="m-Egr1" class="n mg"><rect x="419" y="1168.5" width="48" height="15"/><text x="443" y="1180">Egr1</text></g>
<g id="m-Fos" class="n mg"><rect x="419" y="1184.5" width="48" height="15"/><text x="443" y="1196">Fos</text></g>
<g id="m-Jun" class="n mg"><rect x="419" y="1200.5" width="48" height="15"/><text x="443" y="1212">Jun</text></g>
</g>

<g id="mouse-edges">
<path class="e a" d="M670,701V732"/>
<path class="e a" d="M590,803L511,808"/>
<path class="e a" d="M751,797L857,794"/>
<path class="e a" d="M940,863V882"/>
<path class="e a" d="M383,886L373,897"/>
<path class="e" d="M404,958H586M586,951V965"/>
<path class="e a" d="M223,1037L249,716"/>
<path class="e a" d="M288,1017L277,1036"/>
<path class="e a" d="M406,993L419,1035"/>
<path class="e" d="M650,1004L662,869M652,868H672"/>
<path class="e" d="M643,983V1003M637,1003H650"/>
<path class="e a" d="M643,1022V1043"/>
<path class="e a" d="M637,1061L619,1082"/>
<path class="e a" d="M653,1061L690,1088"/>
<path class="e a" d="M1018,917L1075,886"/>
</g>

<g id="caption">
<text class="cap" x="25" y="1280" textLength="1250" lengthAdjust="spacingAndGlyphs"><tspan font-weight="bold">Fig. 6</tspan> DE genes on “Insulin Signaling” pathway upon <tspan font-style="italic">S. aureus</tspan> infection, human pathway on the top part and mouse on the bottom. See legend</text>
<text class="cap" x="25" y="1307" textLength="1205" lengthAdjust="spacingAndGlyphs">in Fig. <tspan fill="#1a4bd6">4</tspan> for additional information on coloring scheme. The human pathway contains 226 nodes and 25 edges and the mouse pathway 195</text>
<text class="cap" x="25" y="1333" textLength="1252" lengthAdjust="spacingAndGlyphs">nodes and 15 edges. Additional_file_<tspan fill="#1a4bd6">7</tspan>.zip contains an Insulin_Signaling_human_mouse.cys file which can be opened on Cytoscape to view these</text>
<text class="cap" x="25" y="1359" textLength="273" lengthAdjust="spacingAndGlyphs">pathways with better resolution</text>
</g>
</svg>
